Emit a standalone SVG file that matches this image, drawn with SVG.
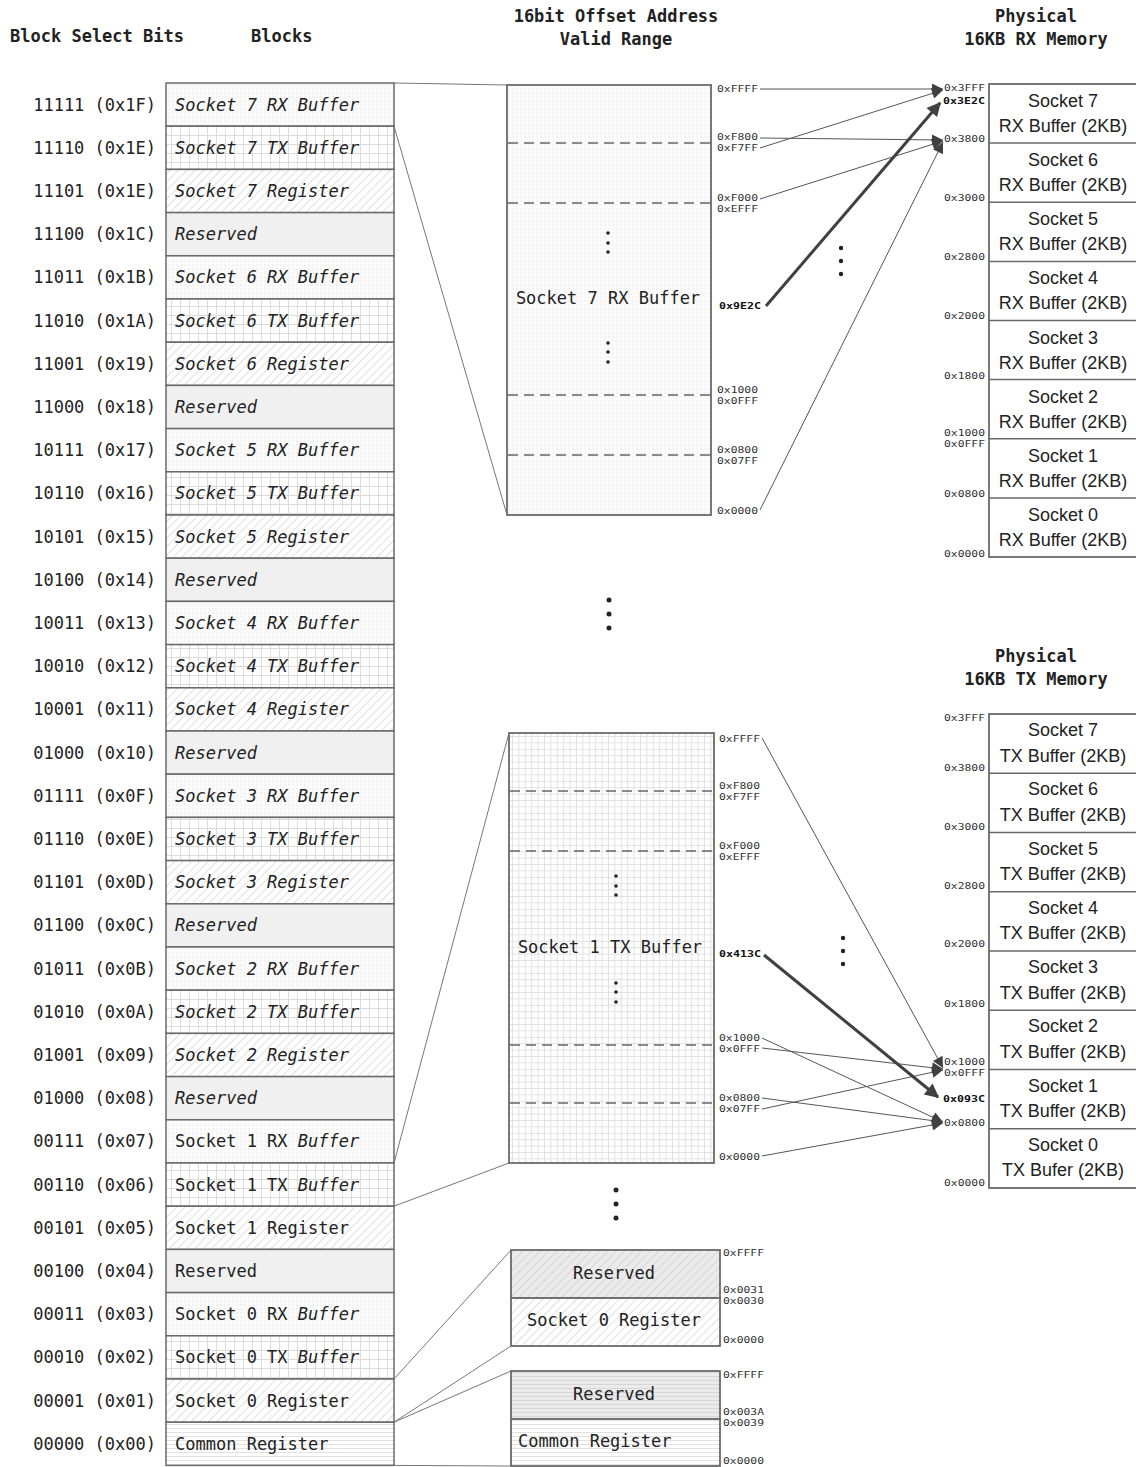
<svg xmlns="http://www.w3.org/2000/svg" width="1136" height="1467" viewBox="0 0 1136 1467">
<style>
  .hdr{font-family:"DejaVu Sans Mono","Liberation Mono",monospace;font-size:17px;font-weight:bold;fill:#222}
  .lbl{font-family:"DejaVu Sans Mono","Liberation Mono",monospace;font-size:17px;fill:#222;text-anchor:end}
  .blk{font-family:"DejaVu Sans Mono","Liberation Mono",monospace;font-size:17px;fill:#222}
  .it{font-style:italic}
  .hex{font-family:"DejaVu Sans Mono","Liberation Mono",monospace;font-size:9px;fill:#333}
  .hexr{font-family:"DejaVu Sans Mono","Liberation Mono",monospace;font-size:9px;fill:#333;text-anchor:end}
  .b{font-weight:bold;fill:#111}
  .mem{font-family:"Liberation Sans","Open Sans",sans-serif;font-size:18px;fill:#222;text-anchor:middle}
  .cell{stroke:#6a6a6a;stroke-width:1.5}
  .box{stroke:#6a6a6a;stroke-width:1.8}
  .dash{stroke:#666;stroke-width:1.5;stroke-dasharray:10 6}
  .thin{stroke:#777;stroke-width:1;fill:none}
  .arr{stroke:#555;stroke-width:1;fill:none}
  .thick{stroke:#404040;stroke-width:3;fill:none}
  .dot{fill:#222}
</style>
<defs>
  <pattern id="pdots" width="4" height="4" patternUnits="userSpaceOnUse">
    <rect width="4" height="4" fill="#fbfbfb"/>
    <circle cx="1" cy="1" r="0.6" fill="#d6d6d6"/>
  </pattern>
  <pattern id="pgrid" width="9" height="9" patternUnits="userSpaceOnUse">
    <rect width="9" height="9" fill="#fff"/>
    <path d="M0 0.5H9M0.5 0V9" stroke="#dcdcdc" stroke-width="1"/>
  </pattern>
  <pattern id="pgrid2" width="6.4" height="6.4" patternUnits="userSpaceOnUse">
    <rect width="6.4" height="6.4" fill="#fff"/>
    <path d="M0 0.5H6.4M0.5 0V6.4" stroke="#dedede" stroke-width="0.9"/>
  </pattern>
  <pattern id="phatch" width="6" height="6" patternUnits="userSpaceOnUse" patternTransform="rotate(45)">
    <rect width="6" height="6" fill="#fff"/>
    <path d="M0.5 0V6" stroke="#e0e0e0" stroke-width="1"/>
  </pattern>
  <pattern id="phatchG" width="6" height="6" patternUnits="userSpaceOnUse" patternTransform="rotate(45)">
    <rect width="6" height="6" fill="#ebebeb"/>
    <path d="M0.5 0V6" stroke="#d6d6d6" stroke-width="1"/>
  </pattern>
  <pattern id="phl" width="4" height="4" patternUnits="userSpaceOnUse">
    <rect width="4" height="4" fill="#fff"/>
    <path d="M0 0.5H4" stroke="#e2e2e2" stroke-width="1"/>
  </pattern>
  <pattern id="phlG" width="4" height="4" patternUnits="userSpaceOnUse">
    <rect width="4" height="4" fill="#ebebeb"/>
    <path d="M0 0.5H4" stroke="#d6d6d6" stroke-width="1"/>
  </pattern>
  <marker id="ah" viewBox="0 0 10 10" refX="10" refY="5" markerWidth="13" markerHeight="11" markerUnits="userSpaceOnUse" orient="auto">
    <path d="M0 0L10 5L0 10z" fill="#404040"/>
  </marker>
  <marker id="ahT" viewBox="0 0 10 10" refX="9" refY="5" markerWidth="17" markerHeight="14" markerUnits="userSpaceOnUse" orient="auto">
    <path d="M0 0L10 5L0 10z" fill="#404040"/>
  </marker>
</defs>
<rect width="1136" height="1467" fill="#fff"/>

<!-- headers -->
<g id="headers">
  <text class="hdr" x="10" y="42">Block Select Bits</text>
  <text class="hdr" x="251" y="42">Blocks</text>
  <text class="hdr" x="616" y="22" text-anchor="middle">16bit Offset Address</text>
  <text class="hdr" x="616" y="45" text-anchor="middle">Valid Range</text>
  <text class="hdr" x="1036" y="22" text-anchor="middle">Physical</text>
  <text class="hdr" x="1036" y="45" text-anchor="middle">16KB RX Memory</text>
  <text class="hdr" x="1036" y="662" text-anchor="middle">Physical</text>
  <text class="hdr" x="1036" y="685" text-anchor="middle">16KB TX Memory</text>
</g>

<!-- connectors -->
<g id="connectors">
  <path class="thin" d="M394 83L507 85M394 126.2L507 515"/>
  <path class="thin" d="M394 1163L509 733M394 1206.2L509 1163"/>
  <path class="thin" d="M394 1379L511 1250M394 1422.2L511 1346"/>
  <path class="thin" d="M394 1422.2L511 1371M394 1465.4L511 1466"/>
  <!-- RX mapping -->
  <path class="arr" d="M760 89L943 89" marker-end="url(#ah)"/>
  <path class="arr" d="M760 138L943 140" marker-end="url(#ah)"/>
  <path class="arr" d="M760 148L943 90" marker-end="url(#ah)"/>
  <path class="arr" d="M760 199L943 141" marker-end="url(#ah)"/>
  <path class="arr" d="M760 510L943 142" marker-end="url(#ah)"/>
  <path class="thick" d="M766 306L940 103" marker-end="url(#ahT)"/>
  <!-- TX mapping -->
  <path class="arr" d="M762 738L943 1068" marker-end="url(#ah)"/>
  <path class="arr" d="M762 1038L943 1122" marker-end="url(#ah)"/>
  <path class="arr" d="M762 1048L943 1069" marker-end="url(#ah)"/>
  <path class="arr" d="M762 1098L943 1122" marker-end="url(#ah)"/>
  <path class="arr" d="M762 1109L943 1070" marker-end="url(#ah)"/>
  <path class="arr" d="M762 1156L943 1123" marker-end="url(#ah)"/>
  <path class="thick" d="M764 955L938 1097" marker-end="url(#ahT)"/>
</g>

<!-- left blocks -->
<g id="blocks">
  <g id="b1F"><rect class="cell" x="166" y="83" width="228" height="43.2" fill="url(#pdots)"/><text class="lbl" x="156" y="110.6">11111 (0x1F)</text><text class="blk it" x="175" y="110.6">Socket 7 RX Buffer</text></g>
  <g id="b1E"><rect class="cell" x="166" y="126.2" width="228" height="43.2" fill="url(#pgrid)"/><text class="lbl" x="156" y="153.8">11110 (0x1E)</text><text class="blk it" x="175" y="153.8">Socket 7 TX Buffer</text></g>
  <g id="b1D"><rect class="cell" x="166" y="169.4" width="228" height="43.2" fill="url(#phatch)"/><text class="lbl" x="156" y="197">11101 (0x1E)</text><text class="blk it" x="175" y="197">Socket 7 Register</text></g>
  <g id="b1C"><rect class="cell" x="166" y="212.6" width="228" height="43.2" fill="#f0f0f0"/><text class="lbl" x="156" y="240.2">11100 (0x1C)</text><text class="blk it" x="175" y="240.2">Reserved</text></g>
  <g id="b1B"><rect class="cell" x="166" y="255.8" width="228" height="43.2" fill="url(#pdots)"/><text class="lbl" x="156" y="283.4">11011 (0x1B)</text><text class="blk it" x="175" y="283.4">Socket 6 RX Buffer</text></g>
  <g id="b1A"><rect class="cell" x="166" y="299" width="228" height="43.2" fill="url(#pgrid)"/><text class="lbl" x="156" y="326.6">11010 (0x1A)</text><text class="blk it" x="175" y="326.6">Socket 6 TX Buffer</text></g>
  <g id="b19"><rect class="cell" x="166" y="342.2" width="228" height="43.2" fill="url(#phatch)"/><text class="lbl" x="156" y="369.8">11001 (0x19)</text><text class="blk it" x="175" y="369.8">Socket 6 Register</text></g>
  <g id="b18"><rect class="cell" x="166" y="385.4" width="228" height="43.2" fill="#f0f0f0"/><text class="lbl" x="156" y="413">11000 (0x18)</text><text class="blk it" x="175" y="413">Reserved</text></g>
  <g id="b17"><rect class="cell" x="166" y="428.6" width="228" height="43.2" fill="url(#pdots)"/><text class="lbl" x="156" y="456.2">10111 (0x17)</text><text class="blk it" x="175" y="456.2">Socket 5 RX Buffer</text></g>
  <g id="b16"><rect class="cell" x="166" y="471.8" width="228" height="43.2" fill="url(#pgrid)"/><text class="lbl" x="156" y="499.4">10110 (0x16)</text><text class="blk it" x="175" y="499.4">Socket 5 TX Buffer</text></g>
  <g id="b15"><rect class="cell" x="166" y="515" width="228" height="43.2" fill="url(#phatch)"/><text class="lbl" x="156" y="542.6">10101 (0x15)</text><text class="blk it" x="175" y="542.6">Socket 5 Register</text></g>
  <g id="b14"><rect class="cell" x="166" y="558.2" width="228" height="43.2" fill="#f0f0f0"/><text class="lbl" x="156" y="585.8">10100 (0x14)</text><text class="blk it" x="175" y="585.8">Reserved</text></g>
  <g id="b13"><rect class="cell" x="166" y="601.4" width="228" height="43.2" fill="url(#pdots)"/><text class="lbl" x="156" y="629">10011 (0x13)</text><text class="blk it" x="175" y="629">Socket 4 RX Buffer</text></g>
  <g id="b12"><rect class="cell" x="166" y="644.6" width="228" height="43.2" fill="url(#pgrid)"/><text class="lbl" x="156" y="672.2">10010 (0x12)</text><text class="blk it" x="175" y="672.2">Socket 4 TX Buffer</text></g>
  <g id="b11"><rect class="cell" x="166" y="687.8" width="228" height="43.2" fill="url(#phatch)"/><text class="lbl" x="156" y="715.4">10001 (0x11)</text><text class="blk it" x="175" y="715.4">Socket 4 Register</text></g>
  <g id="b10"><rect class="cell" x="166" y="731" width="228" height="43.2" fill="#f0f0f0"/><text class="lbl" x="156" y="758.6">01000 (0x10)</text><text class="blk it" x="175" y="758.6">Reserved</text></g>
  <g id="b0F"><rect class="cell" x="166" y="774.2" width="228" height="43.2" fill="url(#pdots)"/><text class="lbl" x="156" y="801.8">01111 (0x0F)</text><text class="blk it" x="175" y="801.8">Socket 3 RX Buffer</text></g>
  <g id="b0E"><rect class="cell" x="166" y="817.4" width="228" height="43.2" fill="url(#pgrid)"/><text class="lbl" x="156" y="845">01110 (0x0E)</text><text class="blk it" x="175" y="845">Socket 3 TX Buffer</text></g>
  <g id="b0D"><rect class="cell" x="166" y="860.6" width="228" height="43.2" fill="url(#phatch)"/><text class="lbl" x="156" y="888.2">01101 (0x0D)</text><text class="blk it" x="175" y="888.2">Socket 3 Register</text></g>
  <g id="b0C"><rect class="cell" x="166" y="903.8" width="228" height="43.2" fill="#f0f0f0"/><text class="lbl" x="156" y="931.4">01100 (0x0C)</text><text class="blk it" x="175" y="931.4">Reserved</text></g>
  <g id="b0B"><rect class="cell" x="166" y="947" width="228" height="43.2" fill="url(#pdots)"/><text class="lbl" x="156" y="974.6">01011 (0x0B)</text><text class="blk it" x="175" y="974.6">Socket 2 RX Buffer</text></g>
  <g id="b0A"><rect class="cell" x="166" y="990.2" width="228" height="43.2" fill="url(#pgrid)"/><text class="lbl" x="156" y="1017.8">01010 (0x0A)</text><text class="blk it" x="175" y="1017.8">Socket 2 TX Buffer</text></g>
  <g id="b09"><rect class="cell" x="166" y="1033.4" width="228" height="43.2" fill="url(#phatch)"/><text class="lbl" x="156" y="1061">01001 (0x09)</text><text class="blk it" x="175" y="1061">Socket 2 Register</text></g>
  <g id="b08"><rect class="cell" x="166" y="1076.6" width="228" height="43.2" fill="#f0f0f0"/><text class="lbl" x="156" y="1104.2">01000 (0x08)</text><text class="blk it" x="175" y="1104.2">Reserved</text></g>
  <g id="b07"><rect class="cell" x="166" y="1119.8" width="228" height="43.2" fill="url(#pdots)"/><text class="lbl" x="156" y="1147.4">00111 (0x07)</text><text class="blk" x="175" y="1147.4">Socket 1 RX <tspan class="it">Buffer</tspan></text></g>
  <g id="b06"><rect class="cell" x="166" y="1163" width="228" height="43.2" fill="url(#pgrid)"/><text class="lbl" x="156" y="1190.6">00110 (0x06)</text><text class="blk" x="175" y="1190.6">Socket 1 TX <tspan class="it">Buffer</tspan></text></g>
  <g id="b05"><rect class="cell" x="166" y="1206.2" width="228" height="43.2" fill="url(#phatch)"/><text class="lbl" x="156" y="1233.8">00101 (0x05)</text><text class="blk" x="175" y="1233.8">Socket 1 Register</text></g>
  <g id="b04"><rect class="cell" x="166" y="1249.4" width="228" height="43.2" fill="#f0f0f0"/><text class="lbl" x="156" y="1277">00100 (0x04)</text><text class="blk" x="175" y="1277">Reserved</text></g>
  <g id="b03"><rect class="cell" x="166" y="1292.6" width="228" height="43.2" fill="url(#pdots)"/><text class="lbl" x="156" y="1320.2">00011 (0x03)</text><text class="blk" x="175" y="1320.2">Socket 0 RX <tspan class="it">Buffer</tspan></text></g>
  <g id="b02"><rect class="cell" x="166" y="1335.8" width="228" height="43.2" fill="url(#pgrid)"/><text class="lbl" x="156" y="1363.4">00010 (0x02)</text><text class="blk" x="175" y="1363.4">Socket 0 TX <tspan class="it">Buffer</tspan></text></g>
  <g id="b01"><rect class="cell" x="166" y="1379" width="228" height="43.2" fill="url(#phatch)"/><text class="lbl" x="156" y="1406.6">00001 (0x01)</text><text class="blk" x="175" y="1406.6">Socket 0 Register</text></g>
  <g id="b00"><rect class="cell" x="166" y="1422.2" width="228" height="43.2" fill="url(#phl)"/><text class="lbl" x="156" y="1449.8">00000 (0x00)</text><text class="blk" x="175" y="1449.8">Common Register</text></g>
</g>

<!-- Socket 7 RX offset range -->
<g id="rx-range">
  <rect class="box" x="507" y="85" width="204" height="430" fill="url(#pdots)"/>
  <path class="dash" d="M508 143H710M508 203H710M508 395H710M508 455H710"/>
  <text class="blk" x="608" y="304" text-anchor="middle">Socket 7 RX Buffer</text>
  <circle class="dot" cx="608" cy="233" r="1.8"/><circle class="dot" cx="608" cy="243" r="1.8"/><circle class="dot" cx="608" cy="252" r="1.8"/>
  <circle class="dot" cx="608" cy="343" r="1.8"/><circle class="dot" cx="608" cy="352" r="1.8"/><circle class="dot" cx="608" cy="362" r="1.8"/>
  <text class="hex" x="717" y="91.5" textLength="41" lengthAdjust="spacingAndGlyphs">0xFFFF</text>
  <text class="hex" x="717" y="140" textLength="41" lengthAdjust="spacingAndGlyphs">0xF800</text>
  <text class="hex" x="717" y="151" textLength="41" lengthAdjust="spacingAndGlyphs">0xF7FF</text>
  <text class="hex" x="717" y="200.5" textLength="41" lengthAdjust="spacingAndGlyphs">0xF000</text>
  <text class="hex" x="717" y="211.5" textLength="41" lengthAdjust="spacingAndGlyphs">0xEFFF</text>
  <text class="hex b" x="719" y="308.5" textLength="42" lengthAdjust="spacingAndGlyphs">0x9E2C</text>
  <text class="hex" x="717" y="392.5" textLength="41" lengthAdjust="spacingAndGlyphs">0x1000</text>
  <text class="hex" x="717" y="403.5" textLength="41" lengthAdjust="spacingAndGlyphs">0x0FFF</text>
  <text class="hex" x="717" y="452.5" textLength="41" lengthAdjust="spacingAndGlyphs">0x0800</text>
  <text class="hex" x="717" y="463.5" textLength="41" lengthAdjust="spacingAndGlyphs">0x07FF</text>
  <text class="hex" x="717" y="513.5" textLength="41" lengthAdjust="spacingAndGlyphs">0x0000</text>
</g>

<!-- Physical RX memory -->
<g id="rx-mem">
  <rect class="box" x="989" y="84" width="150" height="473" fill="#fff"/>
  <path class="cell" d="M989 143.1H1136M989 202.3H1136M989 261.4H1136M989 320.5H1136M989 379.6H1136M989 438.8H1136M989 497.9H1136"/>
  <text class="mem" x="1063" y="107">Socket 7</text><text class="mem" x="1063" y="132">RX Buffer (2KB)</text>
  <text class="mem" x="1063" y="166.1">Socket 6</text><text class="mem" x="1063" y="191.1">RX Buffer (2KB)</text>
  <text class="mem" x="1063" y="225.3">Socket 5</text><text class="mem" x="1063" y="250.3">RX Buffer (2KB)</text>
  <text class="mem" x="1063" y="284.4">Socket 4</text><text class="mem" x="1063" y="309.4">RX Buffer (2KB)</text>
  <text class="mem" x="1063" y="343.5">Socket 3</text><text class="mem" x="1063" y="368.5">RX Buffer (2KB)</text>
  <text class="mem" x="1063" y="402.6">Socket 2</text><text class="mem" x="1063" y="427.6">RX Buffer (2KB)</text>
  <text class="mem" x="1063" y="461.8">Socket 1</text><text class="mem" x="1063" y="486.8">RX Buffer (2KB)</text>
  <text class="mem" x="1063" y="520.9">Socket 0</text><text class="mem" x="1063" y="545.9">RX Buffer (2KB)</text>
  <text class="hexr" x="985" y="91" textLength="41" lengthAdjust="spacingAndGlyphs">0x3FFF</text>
  <text class="hexr b" x="985" y="104" textLength="42" lengthAdjust="spacingAndGlyphs">0x3E2C</text>
  <text class="hexr" x="985" y="141.5" textLength="41" lengthAdjust="spacingAndGlyphs">0x3800</text>
  <text class="hexr" x="985" y="200.5" textLength="41" lengthAdjust="spacingAndGlyphs">0x3000</text>
  <text class="hexr" x="985" y="259.5" textLength="41" lengthAdjust="spacingAndGlyphs">0x2800</text>
  <text class="hexr" x="985" y="318.5" textLength="41" lengthAdjust="spacingAndGlyphs">0x2000</text>
  <text class="hexr" x="985" y="378.5" textLength="41" lengthAdjust="spacingAndGlyphs">0x1800</text>
  <text class="hexr" x="985" y="435.5" textLength="41" lengthAdjust="spacingAndGlyphs">0x1000</text>
  <text class="hexr" x="985" y="446.5" textLength="41" lengthAdjust="spacingAndGlyphs">0x0FFF</text>
  <text class="hexr" x="985" y="496.5" textLength="41" lengthAdjust="spacingAndGlyphs">0x0800</text>
  <text class="hexr" x="985" y="556.5" textLength="41" lengthAdjust="spacingAndGlyphs">0x0000</text>
  <circle class="dot" cx="841" cy="248" r="2.2"/><circle class="dot" cx="841" cy="261" r="2.2"/><circle class="dot" cx="841" cy="274" r="2.2"/>
</g>

<circle class="dot" cx="609" cy="600" r="2.5"/><circle class="dot" cx="609" cy="614" r="2.5"/><circle class="dot" cx="609" cy="628" r="2.5"/>

<!-- Socket 1 TX offset range -->
<g id="tx-range">
  <rect class="box" x="509" y="733" width="205" height="430" fill="url(#pgrid2)"/>
  <path class="dash" d="M510 791H713M510 851H713M510 1045H713M510 1103H713"/>
  <text class="blk" x="610" y="953" text-anchor="middle">Socket 1 TX Buffer</text>
  <circle class="dot" cx="616" cy="876" r="1.8"/><circle class="dot" cx="616" cy="886" r="1.8"/><circle class="dot" cx="616" cy="895" r="1.8"/>
  <circle class="dot" cx="616" cy="983" r="1.8"/><circle class="dot" cx="616" cy="992" r="1.8"/><circle class="dot" cx="616" cy="1002" r="1.8"/>
  <text class="hex" x="719" y="741.5" textLength="41" lengthAdjust="spacingAndGlyphs">0xFFFF</text>
  <text class="hex" x="719" y="788.5" textLength="41" lengthAdjust="spacingAndGlyphs">0xF800</text>
  <text class="hex" x="719" y="799.5" textLength="41" lengthAdjust="spacingAndGlyphs">0xF7FF</text>
  <text class="hex" x="719" y="848.5" textLength="41" lengthAdjust="spacingAndGlyphs">0xF000</text>
  <text class="hex" x="719" y="859.5" textLength="41" lengthAdjust="spacingAndGlyphs">0xEFFF</text>
  <text class="hex b" x="719" y="956.5" textLength="42" lengthAdjust="spacingAndGlyphs">0x413C</text>
  <text class="hex" x="719" y="1040.5" textLength="41" lengthAdjust="spacingAndGlyphs">0x1000</text>
  <text class="hex" x="719" y="1051.5" textLength="41" lengthAdjust="spacingAndGlyphs">0x0FFF</text>
  <text class="hex" x="719" y="1100.5" textLength="41" lengthAdjust="spacingAndGlyphs">0x0800</text>
  <text class="hex" x="719" y="1111.5" textLength="41" lengthAdjust="spacingAndGlyphs">0x07FF</text>
  <text class="hex" x="719" y="1159.5" textLength="41" lengthAdjust="spacingAndGlyphs">0x0000</text>
</g>

<!-- Physical TX memory -->
<g id="tx-mem">
  <rect class="box" x="989" y="714" width="150" height="474" fill="#fff"/>
  <path class="cell" d="M989 773.25H1136M989 832.5H1136M989 891.75H1136M989 951H1136M989 1010.25H1136M989 1069.5H1136M989 1128.75H1136"/>
  <text class="mem" x="1063" y="736">Socket 7</text><text class="mem" x="1063" y="761.5">TX Buffer (2KB)</text>
  <text class="mem" x="1063" y="795.25">Socket 6</text><text class="mem" x="1063" y="820.75">TX Buffer (2KB)</text>
  <text class="mem" x="1063" y="854.5">Socket 5</text><text class="mem" x="1063" y="880">TX Buffer (2KB)</text>
  <text class="mem" x="1063" y="913.75">Socket 4</text><text class="mem" x="1063" y="939.25">TX Buffer (2KB)</text>
  <text class="mem" x="1063" y="973">Socket 3</text><text class="mem" x="1063" y="998.5">TX Buffer (2KB)</text>
  <text class="mem" x="1063" y="1032.25">Socket 2</text><text class="mem" x="1063" y="1057.75">TX Buffer (2KB)</text>
  <text class="mem" x="1063" y="1091.5">Socket 1</text><text class="mem" x="1063" y="1117">TX Buffer (2KB)</text>
  <text class="mem" x="1063" y="1150.75">Socket 0</text><text class="mem" x="1063" y="1176.25">TX Bufer (2KB)</text>
  <text class="hexr" x="985" y="720.5" textLength="41" lengthAdjust="spacingAndGlyphs">0x3FFF</text>
  <text class="hexr" x="985" y="770.5" textLength="41" lengthAdjust="spacingAndGlyphs">0x3800</text>
  <text class="hexr" x="985" y="829.5" textLength="41" lengthAdjust="spacingAndGlyphs">0x3000</text>
  <text class="hexr" x="985" y="888.5" textLength="41" lengthAdjust="spacingAndGlyphs">0x2800</text>
  <text class="hexr" x="985" y="946.5" textLength="41" lengthAdjust="spacingAndGlyphs">0x2000</text>
  <text class="hexr" x="985" y="1006.5" textLength="41" lengthAdjust="spacingAndGlyphs">0x1800</text>
  <text class="hexr" x="985" y="1064.5" textLength="41" lengthAdjust="spacingAndGlyphs">0x1000</text>
  <text class="hexr" x="985" y="1075.5" textLength="41" lengthAdjust="spacingAndGlyphs">0x0FFF</text>
  <text class="hexr b" x="985" y="1101.5" textLength="42" lengthAdjust="spacingAndGlyphs">0x093C</text>
  <text class="hexr" x="985" y="1125.5" textLength="41" lengthAdjust="spacingAndGlyphs">0x0800</text>
  <text class="hexr" x="985" y="1185.5" textLength="41" lengthAdjust="spacingAndGlyphs">0x0000</text>
  <circle class="dot" cx="843" cy="938" r="2.2"/><circle class="dot" cx="843" cy="951" r="2.2"/><circle class="dot" cx="843" cy="964" r="2.2"/>
</g>

<circle class="dot" cx="616" cy="1190" r="2.5"/><circle class="dot" cx="616" cy="1204" r="2.5"/><circle class="dot" cx="616" cy="1218" r="2.5"/>

<!-- Socket 0 register range -->
<g id="s0reg-range">
  <rect class="box" x="511" y="1250" width="209" height="48" fill="url(#phatchG)"/>
  <rect class="box" x="511" y="1298" width="209" height="48" fill="url(#phatch)"/>
  <text class="blk" x="614" y="1279" text-anchor="middle">Reserved</text>
  <text class="blk" x="614" y="1326" text-anchor="middle">Socket 0 Register</text>
  <text class="hex" x="723" y="1256" textLength="41" lengthAdjust="spacingAndGlyphs">0xFFFF</text>
  <text class="hex" x="723" y="1293" textLength="41" lengthAdjust="spacingAndGlyphs">0x0031</text>
  <text class="hex" x="723" y="1304" textLength="41" lengthAdjust="spacingAndGlyphs">0x0030</text>
  <text class="hex" x="723" y="1343" textLength="41" lengthAdjust="spacingAndGlyphs">0x0000</text>
</g>

<!-- Common register range -->
<g id="common-range">
  <rect class="box" x="511" y="1371" width="209" height="48" fill="url(#phlG)"/>
  <rect class="box" x="511" y="1419" width="209" height="47" fill="url(#phl)"/>
  <text class="blk" x="614" y="1400" text-anchor="middle">Reserved</text>
  <text class="blk" x="518" y="1447">Common Register</text>
  <text class="hex" x="723" y="1378" textLength="41" lengthAdjust="spacingAndGlyphs">0xFFFF</text>
  <text class="hex" x="723" y="1415" textLength="41" lengthAdjust="spacingAndGlyphs">0x003A</text>
  <text class="hex" x="723" y="1426" textLength="41" lengthAdjust="spacingAndGlyphs">0x0039</text>
  <text class="hex" x="723" y="1464" textLength="41" lengthAdjust="spacingAndGlyphs">0x0000</text>
</g>
</svg>
